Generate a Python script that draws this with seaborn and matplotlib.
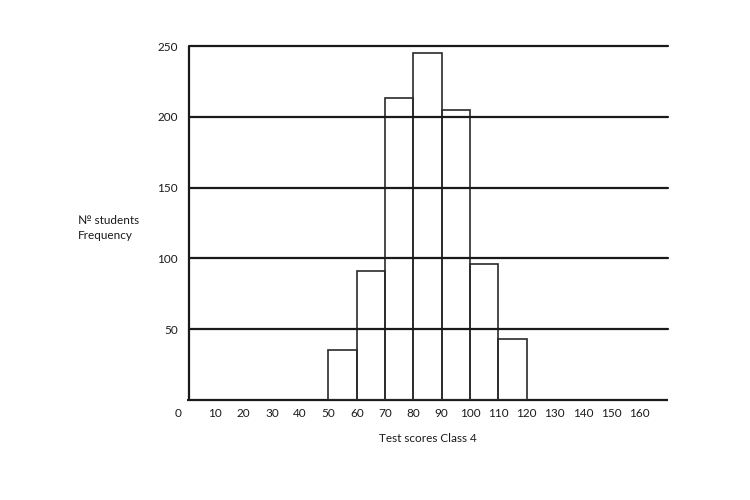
import numpy as np
import seaborn as sns
import matplotlib.pyplot as plt
from matplotlib.transforms import ScaledTranslation

# histogram data: score bins and number of students
bin_edges = [50, 60, 70, 80, 90, 100, 110, 120]
counts = [35, 91, 213, 245, 205, 96, 43]
x_ticks = [0, 10, 20, 30, 40, 50, 60, 70, 80, 90, 100, 110, 120, 130, 140, 150, 160]
y_ticks = [50, 100, 150, 200, 250]

sns.set_theme(style="white")
plt.rcParams["font.family"] = ["Lato", "DejaVu Sans"]

fig = plt.figure(figsize=(7.5, 5), dpi=100)
ax = fig.add_axes([187 / 750, 100 / 500, (668 - 187) / 750, (400 - 46) / 500])

mids = [(a + b) / 2 for a, b in zip(bin_edges[:-1], bin_edges[1:])]
sns.histplot(x=mids, weights=counts, bins=bin_edges, fill=False,
             element="bars", color="#2a2a2a", linewidth=1.2, ax=ax, zorder=3)

# horizontal rules, drawn over the bars
for y in y_ticks:
    ax.axhline(y, xmin=0.004, color="#1a1a1a", lw=1.6, zorder=4, clip_on=False)

ax.set_xlim(0, 170)
ax.set_ylim(0, 250)
ax.set_xticks(x_ticks)
ax.set_xticklabels([str(t) for t in x_ticks])
ax.set_yticks(y_ticks)
ax.tick_params(axis="both", length=0, labelsize=8.5, colors="#1a1a1a")
ax.tick_params(axis="x", pad=6)
ax.tick_params(axis="y", pad=8)
# the origin label sits a little left of its tick
lbl0 = ax.get_xticklabels()[0]
lbl0.set_transform(lbl0.get_transform() + ScaledTranslation(-9 / 100, 0, fig.dpi_scale_trans))

for s in ["top", "right"]:
    ax.spines[s].set_visible(False)
for s in ["left", "bottom"]:
    ax.spines[s].set_color("#1a1a1a")
    ax.spines[s].set_linewidth(1.6)
    ax.spines[s].set_capstyle("butt")
ax.spines["left"].set_position(("data", 0.7))

ax.set_xlabel("Test scores Class 4", fontsize=8.5, labelpad=10, color="#1a1a1a")
ax.set_ylabel("")
fig.text(78 / 750, (500 - 228) / 500, "№ students\nFrequency", fontsize=8.5,
         ha="left", va="center", color="#1a1a1a", linespacing=1.4)

plt.savefig("out.png", dpi=100)
